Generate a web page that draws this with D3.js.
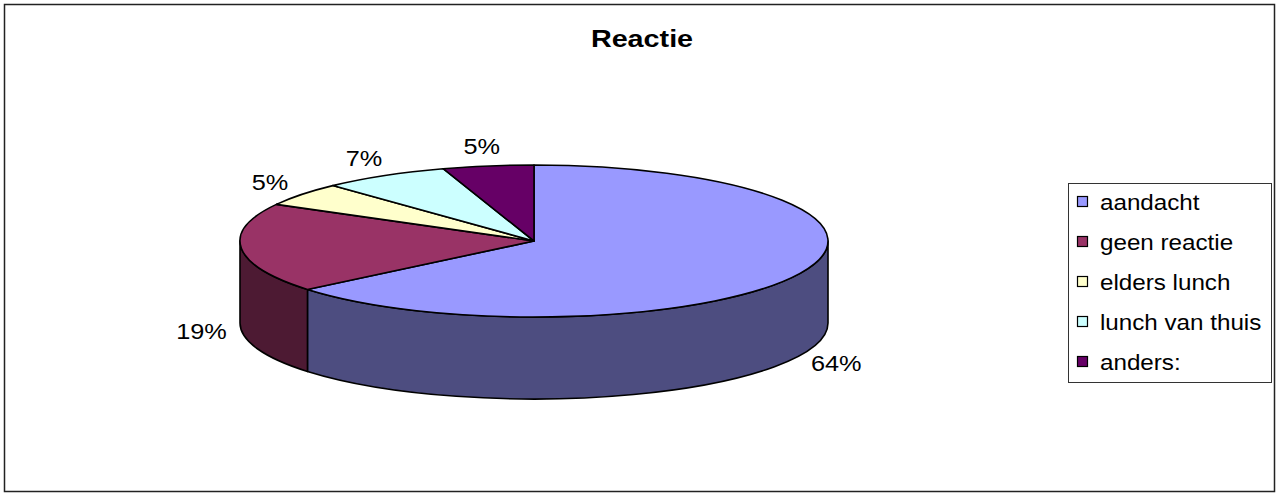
<!DOCTYPE html>
<html>
<head>
<meta charset="utf-8">
<script src="https://cdn.jsdelivr.net/npm/d3@7"></script>
<style>
  html, body { margin: 0; padding: 0; background: #fff; }
  svg { display: block; }
  text { font-family: Arial, "Liberation Sans", sans-serif; fill: #000; }
</style>
</head>
<body>
<svg id="chart" width="1278" height="495"></svg>
<script>
// Survey answers: share of respondents per reaction
const categories = ["aandacht", "geen reactie", "elders lunch", "lunch van thuis", "anders:"];
const values = [64, 19, 5, 7, 5];
const valueLabels = ["64%", "19%", "5%", "7%", "5%"];
const topColors = ["#9999FF", "#993366", "#FFFFCC", "#CCFFFF", "#660066"];
const chartTitle = "Reactie";

const W = 1278, H = 495;
const svg = d3.select("#chart");

// outer chart frame
svg.append("rect")
  .attr("x", 4.5).attr("y", 4.5)
  .attr("width", W - 8).attr("height", H - 8)
  .attr("fill", "#fff").attr("stroke", "#222").attr("stroke-width", 1.5);

// the chart's text is set slightly wide, so glyphs are stretched horizontally
const wideText = (sel, x, y, sx) => sel.attr("transform", `translate(${x},${y}) scale(${sx},1)`);

// title
svg.append("text")
  .attr("text-anchor", "middle")
  .style("font-size", "23px").style("font-weight", "bold")
  .call(wideText, 642, 47, 1.25)
  .text(chartTitle);

// 3D pie geometry: tilted ellipse with a wall of given depth
const cx = 534, cy = 241, rx = 294, ry = 76, depth = 82;
const pt = (a, dy = 0) => [cx + rx * Math.sin(a), cy - ry * Math.cos(a) + dy];

const arcs = d3.pie().sort(null).value(d => d)(values);
const darker = c => { const k = d3.rgb(c); return d3.rgb(k.r * 0.5, k.g * 0.5, k.b * 0.5).formatHex(); };

function wallPath(a0, a1) {
  const s0 = Math.max(a0, Math.PI / 2), s1 = Math.min(a1, 3 * Math.PI / 2);
  if (s1 <= s0) return null;
  const p0 = pt(s0), p1 = pt(s1), q1 = pt(s1, depth), q0 = pt(s0, depth);
  const large = (s1 - s0) > Math.PI ? 1 : 0;
  return `M${p0}A${rx},${ry} 0 ${large} 1 ${p1}L${q1}A${rx},${ry} 0 ${large} 0 ${q0}Z`;
}

function topPath(a0, a1) {
  const p0 = pt(a0), p1 = pt(a1);
  const large = (a1 - a0) > Math.PI ? 1 : 0;
  return `M${cx},${cy}L${p0}A${rx},${ry} 0 ${large} 1 ${p1}Z`;
}

const pie = svg.append("g");

// side walls first, then the top faces
pie.selectAll("path.wall")
  .data(arcs.filter(d => wallPath(d.startAngle, d.endAngle)))
  .join("path")
  .attr("class", "wall")
  .attr("d", d => wallPath(d.startAngle, d.endAngle))
  .attr("fill", d => darker(topColors[d.index]))
  .attr("stroke", "#000").attr("stroke-width", 1.6).attr("stroke-linejoin", "round");

pie.selectAll("path.top")
  .data(arcs)
  .join("path")
  .attr("class", "top")
  .attr("d", d => topPath(d.startAngle, d.endAngle))
  .attr("fill", d => topColors[d.index])
  .attr("stroke", "#000").attr("stroke-width", 1.6).attr("stroke-linejoin", "round");

// percentage labels outside each slice
pie.selectAll("text.lbl")
  .data(arcs)
  .join("text")
  .attr("class", "lbl")
  .attr("text-anchor", "middle")
  .attr("dominant-baseline", "central")
  .style("font-size", "22px")
  .each(function (d) {
    const m = (d.startAngle + d.endAngle) / 2, c = Math.cos(m);
    const x = cx + (rx + 40) * Math.sin(m);
    const y = cy - (ry + 20) * c + (c < 0 ? depth : 0);
    d3.select(this).call(wideText, x, y, 1.15);
  })
  .text(d => valueLabels[d.index]);

// legend
const lg = svg.append("g");
lg.append("rect")
  .attr("x", 1068.5).attr("y", 183.5).attr("width", 203).attr("height", 199)
  .attr("fill", "#fff").attr("stroke", "#333").attr("stroke-width", 1);

const rowY = d3.scalePoint().domain(categories).range([202, 362]);
const rows = lg.selectAll("g.row").data(categories).join("g").attr("class", "row")
  .attr("transform", d => `translate(0,${rowY(d)})`);
rows.append("rect")
  .attr("x", 1077.5).attr("y", -5.5).attr("width", 10).attr("height", 10)
  .attr("fill", (d, i) => topColors[i]).attr("stroke", "#000").attr("stroke-width", 1.2);
rows.append("text")
  .attr("dominant-baseline", "central")
  .style("font-size", "22px")
  .call(wideText, 1100, 0, 1.1)
  .text(d => d);
</script>
</body>
</html>
